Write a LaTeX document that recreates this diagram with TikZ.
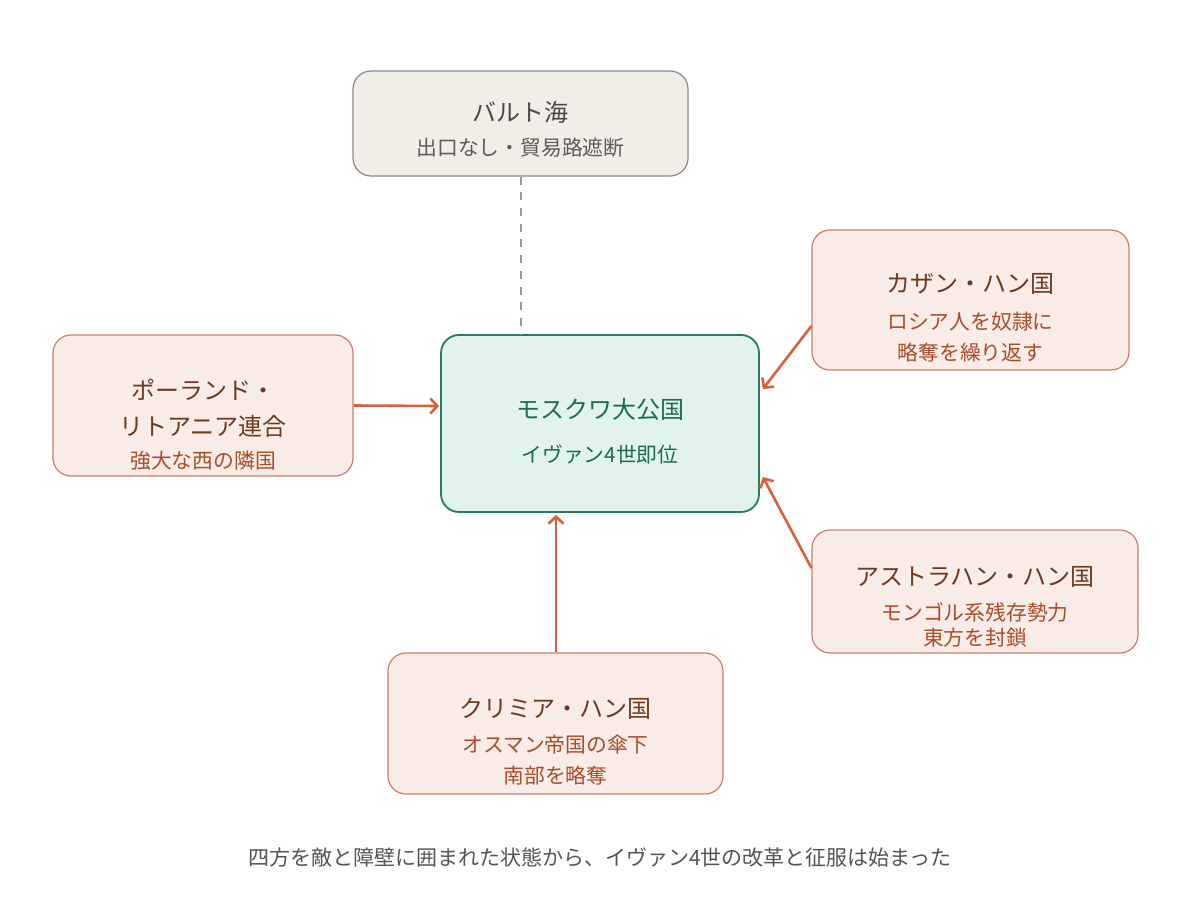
\documentclass[tikz,border=0pt]{standalone}
\usepackage{fontspec}
\setmainfont{Noto Sans CJK JP}
\usetikzlibrary{arrows.meta,calc}
\definecolor{baltfill}{HTML}{F1EEE8}
\definecolor{baltdraw}{HTML}{8C8A86}
\definecolor{balttitle}{HTML}{4A4745}
\definecolor{baltsub}{HTML}{5E5B58}
\definecolor{cenfill}{HTML}{E1F3EC}
\definecolor{cendraw}{HTML}{2A7A5E}
\definecolor{centext}{HTML}{1E6B4F}
\definecolor{redfill}{HTML}{F9EBE6}
\definecolor{reddraw}{HTML}{C9806A}
\definecolor{redtitle}{HTML}{6E3A22}
\definecolor{redsub}{HTML}{A84E2B}
\definecolor{arrowc}{HTML}{D9603B}
\definecolor{dashc}{HTML}{9A9A9A}
\definecolor{capc}{HTML}{555555}
\tikzset{
  box/.style={rectangle, rounded corners=18pt, line width=1.2pt, inner sep=0pt},
  baltbox/.style={box, fill=baltfill, draw=baltdraw},
  cenbox/.style={box, fill=cenfill, draw=cendraw, line width=1.8pt},
  redbox/.style={box, fill=redfill, draw=reddraw},
  ttl/.style={font=\fontsize{24}{29}\selectfont, inner sep=0pt, align=center},
  sub/.style={font=\fontsize{20.8}{25}\selectfont, inner sep=0pt, align=center},
  threat/.style={draw=arrowc, line width=2.6pt, -{Straight Barb[length=7pt,width=15pt,line width=2.6pt]}},
  seaLink/.style={draw=dashc, line width=2pt, dash pattern=on 8pt off 7.7pt},
}
\begin{document}
\begin{tikzpicture}[x=1pt,y=-1pt]
\useasboundingbox (0,0) rectangle (1200,918);
\fill[white] (0,0) rectangle (1200,918);
% boxes
\node[baltbox, minimum width=335pt, minimum height=105pt] (baltic) at (520.5,123.5) {};
\node[cenbox, minimum width=318pt, minimum height=177pt] (center) at (600,423.5) {};
\node[redbox, minimum width=300pt, minimum height=141pt] (poland) at (203,405.5) {};
\node[redbox, minimum width=317pt, minimum height=140pt] (kazan) at (970.5,300) {};
\node[redbox, minimum width=326pt, minimum height=123pt] (astra) at (975,591.5) {};
\node[redbox, minimum width=335pt, minimum height=141pt] (crimea) at (555.5,723.5) {};
% connectors
\draw[seaLink] (baltic.south) -- (baltic.south |- center.north);
\draw[threat] (poland.east) -- ($(center.west)+(-1,-17.5)$);
\draw[threat] ($(kazan.west)+(0,26)$) -- ($(center.east)+(3,-34.5)$);
\draw[threat] ($(astra.west)+(0,-23.5)$) -- ($(center.east)+(3,53.5)$);
\draw[threat] ($(crimea.north)+(0.5,0)$) -- ($(center.south)+(-44,2)$);
% texts
\node[ttl, text=balttitle] (baltT) at (520.5,112) {バルト海};
\node[sub, text=baltsub] (baltS) at (520.5,148) {出口なし・貿易路遮断};
\node[ttl, text=centext] (cenT) at (600,409) {モスクワ大公国};
\node[sub, text=centext] (cenS) at (600,455) {イヴァン4世即位};
\node[ttl, text=redtitle] (polT1) at (203,390) {ポーランド・};
\node[ttl, text=redtitle] (polT2) at (203,426) {リトアニア連合};
\node[sub, text=redsub] (polS) at (203,461) {強大な西の隣国};
\node[ttl, text=redtitle] (kazT) at (970.5,284) {カザン・ハン国};
\node[sub, text=redsub] (kazS1) at (970.5,322) {ロシア人を奴隷に};
\node[sub, text=redsub] (kazS2) at (970.5,353) {略奪を繰り返す};
\node[ttl, text=redtitle] (astT) at (975,577) {アストラハン・ハン国};
\node[sub, text=redsub] (astS1) at (975,612) {モンゴル系残存勢力};
\node[sub, text=redsub] (astS2) at (975,638) {東方を封鎖};
\node[ttl, text=redtitle] (crT) at (555.5,709) {クリミア・ハン国};
\node[sub, text=redsub] (crS1) at (555.5,745) {オスマン帝国の傘下};
\node[sub, text=redsub] (crS2) at (555.5,776) {南部を略奪};
\node[font=\fontsize{21}{25}\selectfont, text=capc, inner sep=0pt] (caption) at (600,857) {四方を敵と障壁に囲まれた状態から、イヴァン4世の改革と征服は始まった};
\end{tikzpicture}
\end{document}
